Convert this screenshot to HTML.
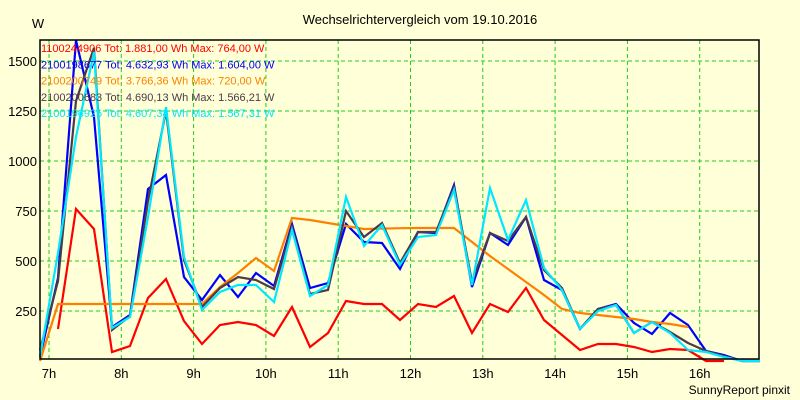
<!DOCTYPE html>
<html><head><meta charset="utf-8"><style>
html,body{margin:0;padding:0;background:#ffffd8;}
svg{display:block;font-family:"Liberation Sans",sans-serif;}
</style></head><body>
<svg id="chart" width="800" height="400" viewBox="0 0 800 400" xmlns="http://www.w3.org/2000/svg">
<rect x="0" y="0" width="800" height="400" fill="#ffffd8"/>
<text x="420" y="24" font-size="13" text-anchor="middle" fill="#000">Wechselrichtervergleich vom 19.10.2016</text>
<text x="38" y="28" font-size="13" text-anchor="middle" fill="#000">W</text>
<text x="790" y="394" font-size="12" text-anchor="end" fill="#000">SunnyReport pinxit</text>
<g id="grid"></g>
<g id="yticks"></g>
<g id="xticks"></g>
<g id="series"></g>
<rect x="40" y="40" width="719" height="319" fill="none" stroke="#000" stroke-width="1.5"/>
<g id="legend"></g>
</svg>
<script>
const hours = ["7h","8h","9h","10h","11h","12h","13h","14h","15h","16h"];
const yTicks = [250,500,750,1000,1250,1500];
const red = [null,160,760,660,45,75,315,410,200,85,180,195,180,125,270,70,140,300,285,285,205,285,270,325,140,285,245,365,205,130,55,85,85,70,45,60,55,0,0,null,null];
const blue = [20,415,1604,1220,170,230,860,930,420,305,430,320,440,375,685,365,390,685,595,590,460,645,640,880,370,640,580,720,405,355,160,260,285,190,135,240,180,50,30,0,0];
const orange = [0,285,285,285,285,285,285,285,285,285,370,440,515,450,715,705,690,675,660,662,664,665,665,665,595,525,460,395,330,260,240,230,220,210,195,185,170,null,null,null,null];
const dark = [55,400,1300,1566,155,225,800,1250,505,270,365,420,405,360,670,335,355,750,620,690,490,645,645,870,395,640,600,720,455,365,160,260,280,140,195,145,90,50,25,0,0];
const cyan = [20,540,1120,1545,165,220,720,1270,520,255,345,380,380,295,655,325,380,820,575,680,480,620,630,855,380,865,605,805,465,355,160,250,280,140,195,140,55,45,20,0,0];
const seriesColors = ["#ff0000","#0000ff","#ff8000","#4a3a4a","#00e8ff"];
const legendTexts = ["1100244906 Tot: 1.881,00 Wh Max: 764,00 W","2100198677 Tot: 4.632,93 Wh Max: 1.604,00 W","2100200749 Tot: 3.766,36 Wh Max: 720,00 W","2100200683 Tot: 4.690,13 Wh Max: 1.566,21 W","2100196925 Tot: 4.607,38 Wh Max: 1.567,31 W"];

const NS="http://www.w3.org/2000/svg";
function xIdx(i){return 40+i*18;}
function xHour(h){return 49+h*72.3;}
function yVal(v){return 361-v*0.2;}
function mk(tag,attrs,parent){const e=document.createElementNS(NS,tag);for(const k in attrs)e.setAttribute(k,attrs[k]);parent.appendChild(e);return e;}

const grid=document.getElementById('grid'),yt=document.getElementById('yticks'),xt=document.getElementById('xticks'),sg=document.getElementById('series'),lg=document.getElementById('legend');
yTicks.forEach(v=>{
  const l=mk('line',{x1:40,x2:759,y1:yVal(v),y2:yVal(v),stroke:'#22cc22','stroke-dasharray':'4,3','stroke-width':1},grid);
  
  
  const t=mk('text',{x:37,y:yVal(v)+5,'font-size':13,'text-anchor':'end',fill:'#000'},yt);
  t.textContent=v;
  
  
});
hours.forEach((h,i)=>{
  const x=xHour(i);
  const l=mk('line',{x1:x,x2:x,y1:40,y2:359,stroke:'#22cc22','stroke-dasharray':'4,3','stroke-width':1},grid);
  
  
  const t=mk('text',{x:x,y:378,'font-size':13,'text-anchor':'middle',fill:'#000'},xt);
  t.textContent=h;
  
  
});
const allSeries=[red,blue,orange,dark,cyan];
const names=["series-1100244906","series-2100198677","series-2100200749","series-2100200683","series-2100196925"];
allSeries.forEach((s,k)=>{
  let pts=[];
  s.forEach((v,i)=>{if(v!==null)pts.push(xIdx(i)+','+yVal(v));});
  const p=mk('polyline',{points:pts.join(' '),fill:'none',stroke:seriesColors[k],'stroke-width':2.2,'stroke-linejoin':'miter'},sg);
  
  
});
legendTexts.forEach((tx,k)=>{
  const t=mk('text',{x:41,y:52+k*16.3,'font-size':11,fill:seriesColors[k]},lg);
  t.textContent=tx;
  
  
});
</script>
</body></html>
